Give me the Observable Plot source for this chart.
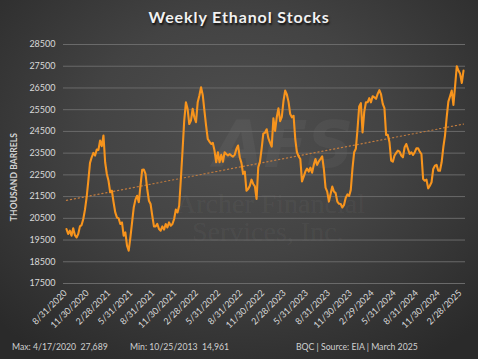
<!DOCTYPE html>
<html>
<head>
<meta charset="utf-8">
<script src="https://cdn.jsdelivr.net/npm/d3@7"></script>
<script src="https://cdn.jsdelivr.net/npm/@observablehq/plot@0.6"></script>
<style>
  html, body { margin: 0; padding: 0; }
  body { width: 478px; height: 359px; overflow: hidden; font-family: Lato, "Open Sans", sans-serif; }
  #wrap { position: relative; width: 478px; height: 359px;
    background: radial-gradient(ellipse 70% 75% at 50% 38%, #4f4f4f 0%, #434343 45%, #333333 80%, #2a2a2a 100%); }
  #chart { position: absolute; left: 0; top: 0; }
  .title { position: absolute; left: 0; width: 478px; top: 7px; text-align: center; color: #f2f2f2;
    font: bold 16px Lato, sans-serif; letter-spacing: 0.9px; text-shadow: 1px 2px 2px rgba(0,0,0,0.75); }
  .ytitle { position: absolute; left: 14px; top: 177px; transform: translate(-50%, -50%) rotate(-90deg);
    color: #d4d4d4; font: bold 8.5px Lato, sans-serif; white-space: nowrap; letter-spacing: 0.1px; }
  .foot { position: absolute; top: 341px; color: #d0d0d0; font: 8.7px Lato, sans-serif; white-space: pre; }
  .wm { position: absolute; color: rgba(255,255,255,0.055); font-family: "Liberation Serif", "DejaVu Serif", serif; white-space: nowrap; }
</style>
</head>
<body>
<div id="wrap">
  <div class="wm" style="left:176px; top:188px; font-size:28px;">Archer Financial</div>
  <div class="wm" style="left:192px; top:216px; font-size:28px;">Services, Inc.</div>
  <div class="wm" style="left:214px; top:108px; font-size:64px; font-weight:bold; font-style:italic; font-family:'DejaVu Sans', sans-serif; color: rgba(255,255,255,0.045);">AFS</div>
  <div id="chart"></div>
  <div class="title">Weekly Ethanol Stocks</div>
  <div class="ytitle">THOUSAND BARRELS</div>
  <div class="foot" style="left:12px;">Max: 4/17/2020  27,689</div>
  <div class="foot" style="left:130px;">Min: 10/25/2013  14,961</div>
  <div class="foot" style="left:296px;">BQC | Source: EIA | March 2025</div>
</div>
<script>
// Weekly ethanol stocks (thousand barrels), first week ending 2020-09-04
const firstWeek = Date.UTC(2020, 8, 4);
const stocks = [
  20010, 19780, 19930, 19700, 20040, 19730, 19620, 19780, 20130, 20190,
  20470, 20900, 21470, 22230, 23050, 23310, 23510, 23390, 23660, 23650,
  24080, 23820, 24310, 23080, 22540, 22230, 21700, 21770, 21240, 20770,
  20540, 20500, 20240, 20310, 19700, 19850, 19240, 19010, 19620, 20310,
  21000, 21360, 21540, 21240, 22000, 22730, 22740, 22540, 21850, 21310,
  21160, 20620, 20130, 20130, 20240, 20010, 19930, 20130, 19980, 20240,
  20080, 20310, 20160, 20240, 20470, 20900, 20770, 21080, 22310, 23620,
  25000, 25840, 25540, 24840, 25000, 25540, 25150, 24920, 25840, 26150,
  26530, 26180, 25460, 24770, 24150, 24030, 23920, 23970, 23620, 23080,
  23540, 23080, 23420, 23100, 23540, 23460, 23390, 23460, 23390, 23340,
  23420, 23690, 23850, 23310, 23050, 22540, 22650, 21770, 21850, 22000,
  22280, 22080, 21970, 21390, 22850, 23100, 23700, 24400, 24440, 24600,
  24190, 23980, 23800, 25100, 24520, 25150, 25560, 24970, 25170, 25900,
  26380, 26200, 25860, 25300, 25150, 25220, 24150, 23540, 23350, 23230,
  22200, 22420, 22650, 22790, 22650, 22830, 22600, 22960, 23230, 22960,
  23120, 23230, 23350, 22770, 21910, 21730, 21270, 21620, 21960, 21730,
  21660, 21270, 21170, 21160, 21000, 21120, 21450, 21600, 21530, 21810,
  22790, 23540, 23700, 24600, 25650, 25800, 24450, 25400, 25840, 25840,
  26030, 25840, 26120, 26070, 26000, 26230, 26400, 26200, 25770, 25570,
  24340, 24340, 24000, 23160, 23110, 23390, 23510, 23620, 23570, 23390,
  23310, 23770, 23920, 23690, 23460, 23540, 23420, 23540, 23720, 23720,
  23570, 23460, 22310, 22230, 22280, 21880, 22000, 22160, 22770, 22920,
  22960, 22690, 22690, 23080, 23770, 24310, 25150, 25870, 26120, 26380,
  25720, 26580, 27500, 27300, 27150, 26730, 27300
];
const yTicks = [17500, 18500, 19500, 20500, 21500, 22500, 23500, 24500, 25500, 26500, 27500, 28500];
const xTickLabels = ["8/31/2020", "11/30/2020", "2/28/2021", "5/31/2021", "8/31/2021", "11/30/2021",
  "2/28/2022", "5/31/2022", "8/31/2022", "11/30/2022", "2/28/2023", "5/31/2023", "8/31/2023",
  "11/30/2023", "2/29/2024", "5/31/2024", "8/31/2024", "11/30/2024", "2/28/2025"];

const parseMDY = d3.utcParse("%m/%d/%Y");
const xTicks = xTickLabels.map(s => parseMDY(s));
const data = stocks.map((v, i) => ({ date: new Date(firstWeek + i * 7 * 864e5), value: v }));

const chart = Plot.plot({
  width: 478,
  height: 359,
  marginTop: 44,
  marginBottom: 76,
  marginLeft: 65,
  marginRight: 15,
  style: { background: "transparent", color: "#d9d9d9", fontFamily: "Lato, sans-serif", fontSize: "9px" },
  x: { type: "utc", domain: [parseMDY("08/31/2020"), data[data.length - 1].date] },
  y: { domain: [17500, 28500] },
  marks: [
    Plot.ruleY(yTicks, { stroke: "#6a6a6a", strokeWidth: 1, insetLeft: -2, insetRight: -2 }),
    Plot.axisY({ ticks: yTicks, tickSize: 0, tickPadding: 10, tickFormat: d3.format("d"), label: null, fill: "#d9d9d9" }),
    Plot.axisX({ ticks: xTicks, tickSize: 0, tickPadding: 8, tickRotate: -45, label: null,
      tickFormat: d => xTickLabels[xTicks.findIndex(t => +t === +d)], fill: "#d9d9d9" }),
    Plot.linearRegressionY(data, { x: "date", y: "value", stroke: "#c27c3e", strokeWidth: 1.2, strokeDasharray: "1.2,2.8", ci: 0 }),
    Plot.line(data, { x: "date", y: "value", stroke: "#f7941d", strokeWidth: 2.1, strokeLinejoin: "round" })
  ]
});
document.getElementById("chart").appendChild(chart);
</script>
</body>
</html>
